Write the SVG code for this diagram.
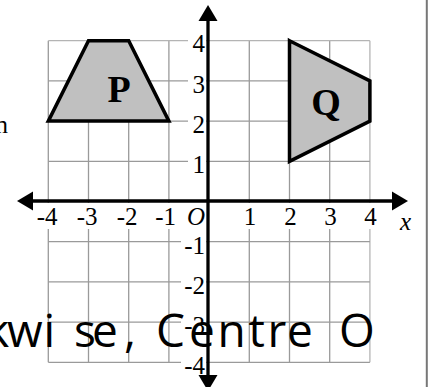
<svg xmlns="http://www.w3.org/2000/svg" width="428" height="387" viewBox="0 0 428 387">
  <style>
    .grid line { stroke: #9a9a9a; stroke-width: 1.3; }
    .lab { font-family: "Liberation Serif", "Times New Roman", serif; font-size: 25px; fill: #000; }
    .bg { fill: #fff; }
    .shape { fill: #c0c0c0; stroke: #000; stroke-width: 3.5; stroke-linejoin: miter; }
    .name { font-family: "Liberation Serif", "Times New Roman", serif; font-weight: bold; font-size: 38px; fill: #000; }
    .axis { stroke: #000; stroke-width: 3.3; }
    .head { fill: #000; }
    .big { font-family: "Open Sans", "Noto Sans", sans-serif; font-size: 46px; fill: #000; }
  </style>
  <rect width="428" height="387" fill="#fff"/>
  <g id="grid" class="grid">
    <line x1="48.3" y1="40.7" x2="48.3" y2="362.3"/>
    <line x1="88.5" y1="40.7" x2="88.5" y2="362.3"/>
    <line x1="128.7" y1="40.7" x2="128.7" y2="362.3"/>
    <line x1="168.9" y1="40.7" x2="168.9" y2="362.3"/>
    <line x1="249.3" y1="40.7" x2="249.3" y2="362.3"/>
    <line x1="289.5" y1="40.7" x2="289.5" y2="362.3"/>
    <line x1="329.7" y1="40.7" x2="329.7" y2="362.3"/>
    <line x1="369.9" y1="40.7" x2="369.9" y2="362.3" style="stroke:#b4b4b4"/>
    <line x1="48.3" y1="40.7" x2="369.9" y2="40.7" style="stroke:#b4b4b4"/>
    <line x1="48.3" y1="80.9" x2="369.9" y2="80.9"/>
    <line x1="48.3" y1="121.1" x2="369.9" y2="121.1"/>
    <line x1="48.3" y1="161.3" x2="369.9" y2="161.3"/>
    <line x1="48.3" y1="241.7" x2="369.9" y2="241.7"/>
    <line x1="48.3" y1="281.9" x2="369.9" y2="281.9"/>
    <line x1="48.3" y1="322.1" x2="369.9" y2="322.1"/>
    <line x1="48.3" y1="362.3" x2="369.9" y2="362.3"/>
  </g>
  <g id="y-labels">
    <rect class="bg" x="188" y="32" width="18" height="22"/>
    <rect class="bg" x="188" y="72" width="18" height="22"/>
    <rect class="bg" x="188" y="112" width="18" height="22"/>
    <rect class="bg" x="188" y="152" width="18" height="22"/>
    <rect class="bg" x="181" y="233" width="25" height="22"/>
    <rect class="bg" x="181" y="273" width="25" height="22"/>
    <rect class="bg" x="181" y="313" width="25" height="22"/>
    <rect class="bg" x="181" y="353" width="25" height="22"/>
    <text class="lab" x="205" y="52" text-anchor="end">4</text>
    <text class="lab" x="205" y="92.5" text-anchor="end">3</text>
    <text class="lab" x="205" y="132.5" text-anchor="end">2</text>
    <text class="lab" x="205" y="173" text-anchor="end">1</text>
    <text class="lab" x="205" y="253.5" text-anchor="end">-1</text>
    <text class="lab" x="205" y="293.5" text-anchor="end">-2</text>
    <text class="lab" x="205" y="334" text-anchor="end">-3</text>
    <text class="lab" x="205" y="374" text-anchor="end">-4</text>
  </g>
  <g id="x-labels">
    <rect class="bg" x="33" y="203" width="27" height="26"/>
    <rect class="bg" x="73" y="203" width="27" height="26"/>
    <rect class="bg" x="113" y="203" width="27" height="26"/>
    <rect class="bg" x="153" y="203" width="27" height="26"/>
    <rect class="bg" x="243" y="203" width="14" height="26"/>
    <rect class="bg" x="282" y="203" width="17" height="26"/>
    <rect class="bg" x="322" y="203" width="17" height="26"/>
    <rect class="bg" x="362" y="203" width="17" height="26"/>
    <text class="lab" x="57.5" y="225" text-anchor="end">-4</text>
    <text class="lab" x="97.5" y="225" text-anchor="end">-3</text>
    <text class="lab" x="137.5" y="225" text-anchor="end">-2</text>
    <text class="lab" x="176" y="225" text-anchor="end">-1</text>
    <text class="lab" x="187" y="225" font-style="italic">O</text>
    <text class="lab" x="250" y="225" text-anchor="middle">1</text>
    <text class="lab" x="290.5" y="225" text-anchor="middle">2</text>
    <text class="lab" x="330.5" y="225" text-anchor="middle">3</text>
    <text class="lab" x="370.5" y="225" text-anchor="middle">4</text>
    <text class="lab" x="400" y="230" font-style="italic" font-size="28">x</text>
  </g>
  <g id="shape-P">
    <polygon class="shape" points="48.3,121.1 88.5,40.7 128.7,40.7 168.9,121.1"/>
    <text class="name" x="119" y="101.5" text-anchor="middle">P</text>
  </g>
  <g id="shape-Q">
    <polygon class="shape" points="289.5,40.7 369.9,80.9 369.9,121.1 289.5,161.3"/>
    <text class="name" x="326" y="115" text-anchor="middle">Q</text>
  </g>
  <g id="connectors">
    <line class="axis" x1="30" y1="201" x2="395" y2="201"/>
    <line class="axis" x1="208" y1="18" x2="208" y2="378"/>
    <polygon class="head" points="208,5 198.5,21 217.5,21"/>
    <polygon class="head" points="208,391 198.5,375 217.5,375"/>
    <polygon class="head" points="17,201 33,191.5 33,210.5"/>
    <polygon class="head" points="408,201 392,191.5 392,210.5"/>
  </g>
  <text class="lab" x="8" y="133" text-anchor="end" font-size="24">n</text>
  <text class="big" y="347" x="-15 7 43.5 74 92 124 140 156 189 217.5 248.5 267.5 287 320 339">kwise, Centre O</text>
  <line x1="426.8" y1="0" x2="426.8" y2="387" stroke="#777" stroke-width="2"/>
</svg>
